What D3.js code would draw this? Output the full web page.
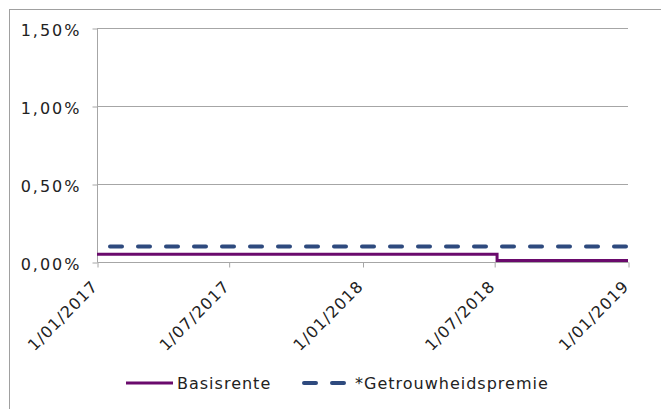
<!DOCTYPE html>
<html><head><meta charset="utf-8">
<script src="https://cdn.jsdelivr.net/npm/d3@7"></script>
<style>
html,body{margin:0;padding:0;background:#fff;}
svg text{font-family:"DejaVu Sans",Verdana,sans-serif;font-size:16px;fill:#222;letter-spacing:1px;}
</style></head>
<body><svg id="c" width="661" height="409"></svg>
<script>
const basisDates = ["2017-01-01","2018-07-05","2019-01-01"];
const basisValues = [0.05, 0.01, 0.01];
const premieDates = ["2017-01-01","2019-01-01"];
const premieValues = [0.10, 0.10];
const yTicks = [0, 0.5, 1.0, 1.5];
const xTickDates = ["2017-01-01","2017-07-01","2018-01-01","2018-07-01","2019-01-01"];
const seriesNames = ["Basisrente","*Getrouwheidspremie"];

const parse = d3.utcParse("%Y-%m-%d");
const svg = d3.select("#c");
const m = {l:97, r:628, t:28, b:262};
const x = d3.scaleUtc().domain([parse("2017-01-01"), parse("2019-01-01")]).range([m.l, m.r]);
const y = d3.scaleLinear().domain([0, 1.5]).range([m.b, m.t]);
const grid = "#a6a6a6";
const purple = "#6a0a6c", navy = "#2e4a7e";

// outer frame
svg.append("rect").attr("x",9.5).attr("y",9.5).attr("width",700).attr("height",450)
  .attr("fill","none").attr("stroke","#a0a0a0").attr("stroke-width",1);

// gridlines
svg.append("g").selectAll("line").data(yTicks.filter(d=>d>0)).join("line")
  .attr("x1",m.l).attr("x2",m.r).attr("y1",d=>Math.round(y(d))+0.5).attr("y2",d=>Math.round(y(d))+0.5)
  .attr("stroke",grid).attr("stroke-width",1);

// y axis
const fmt = d => d3.format(".2f")(d).replace(".", ",") + "%";
const ya = svg.append("g").attr("transform",`translate(${m.l+0.5},0.5)`)
  .call(d3.axisLeft(y).tickValues(yTicks).tickSize(5).tickPadding(0).tickFormat(fmt));
ya.select(".domain").attr("stroke",grid).attr("d",`M0,${m.b}V${m.t}`);
ya.selectAll(".tick line").attr("stroke",grid);
ya.selectAll(".tick text").attr("x",-16).attr("dy","0.45em").attr("fill","#222")
  .style("font-size","16px").style("letter-spacing","2px");

// x axis
const xa = svg.append("g").attr("transform",`translate(0.5,${m.b+0.5})`)
  .call(d3.axisBottom(x).tickValues(xTickDates.map(parse)).tickSize(5).tickFormat(d3.utcFormat("%-d/%m/%Y")));
xa.select(".domain").attr("stroke",grid).attr("d",`M${m.l},0H${m.r}`);
xa.selectAll(".tick line").attr("stroke",grid);
xa.selectAll(".tick text").attr("text-anchor","end").attr("fill","#222").style("font-size","16px")
  .attr("transform","translate(-7,17) rotate(-45)").attr("x",0).attr("y",0).attr("dy","0.7em");

// series
const pts = (ds, vs) => ds.map((d,i)=>[x(parse(d)), y(vs[i])]);
svg.append("path").attr("d", d3.line().curve(d3.curveStepAfter)(pts(premieDates, premieValues)))
  .attr("fill","none").attr("stroke",navy).attr("stroke-width",4)
  .attr("stroke-dasharray","12,16").attr("stroke-dashoffset",15).attr("stroke-linecap","round");
svg.append("path").attr("d", d3.line().curve(d3.curveStepAfter)(pts(basisDates, basisValues)))
  .attr("fill","none").attr("stroke",purple).attr("stroke-width",3);

// legend
const lg = svg.append("g");
lg.append("line").attr("x1",126).attr("x2",173).attr("y1",383).attr("y2",383).attr("stroke",purple).attr("stroke-width",3);
lg.append("text").attr("x",177).attr("y",383).attr("dy","0.36em").text(seriesNames[0]);
lg.append("line").attr("x1",304).attr("x2",345).attr("y1",383).attr("y2",383).attr("stroke",navy).attr("stroke-width",4)
  .attr("stroke-dasharray","12,16").attr("stroke-linecap","round");
lg.append("text").attr("x",355).attr("y",383).attr("dy","0.36em").text(seriesNames[1]);
</script></body></html>
